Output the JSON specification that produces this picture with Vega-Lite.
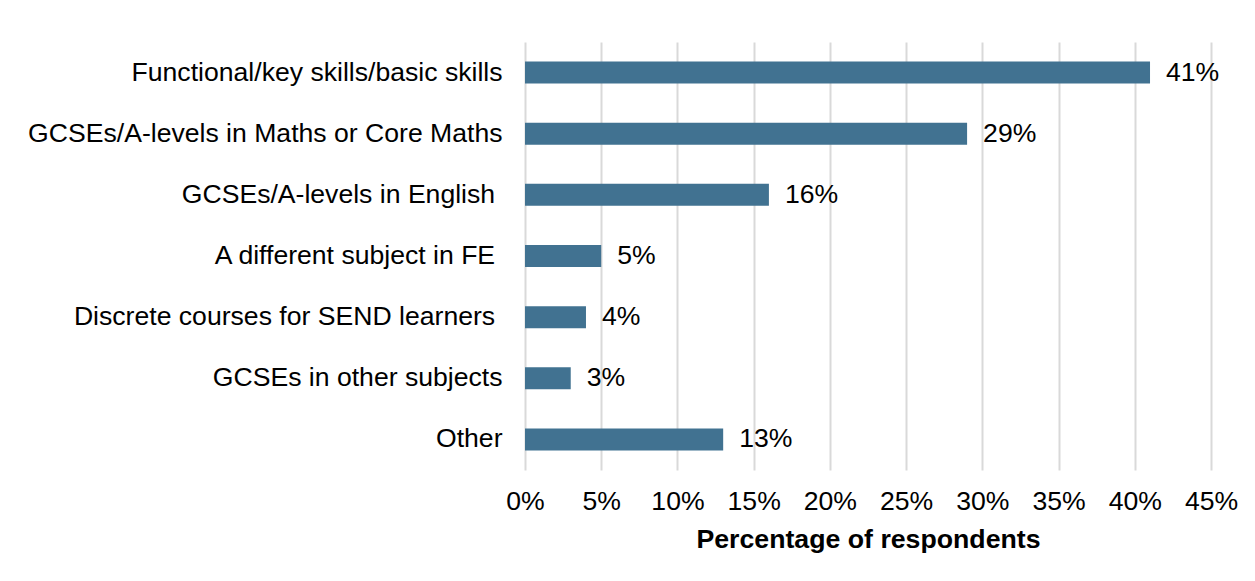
{
  "$schema": "https://vega.github.io/schema/vega-lite/v6.json",
  "autosize": {"type": "none"},
  "padding": {"left": 525, "top": 42, "right": 44, "bottom": 111},
  "width": 686,
  "height": 428,
  "background": "white",
  "config": {
    "font": "Liberation Sans",
    "view": {"stroke": null}
  },
  "data": {
    "values": [
      {"category": "Functional/key skills/basic skills", "pct": 41, "label": "41%"},
      {"category": "GCSEs/A-levels in Maths or Core Maths", "pct": 29, "label": "29%"},
      {"category": "GCSEs/A-levels in English\u00a0\u200b", "pct": 16, "label": "16%"},
      {"category": "A different subject in FE\u00a0\u200b", "pct": 5, "label": "5%"},
      {"category": "Discrete courses for SEND learners\u00a0\u200b", "pct": 4, "label": "4%"},
      {"category": "GCSEs in other subjects", "pct": 3, "label": "3%"},
      {"category": "Other", "pct": 13, "label": "13%"}
    ]
  },
  "encoding": {
    "y": {
      "field": "category",
      "type": "nominal",
      "sort": null,
      "scale": {"paddingInner": 0.64, "paddingOuter": 0.32},
      "axis": {
        "title": null,
        "domain": false,
        "ticks": false,
        "labelFontSize": 26.6,
        "labelColor": "#000000",
        "labelPadding": 23,
        "labelLimit": 600
      }
    },
    "x": {
      "field": "pct",
      "type": "quantitative",
      "scale": {"domain": [0, 45], "nice": false},
      "axis": {
        "title": "Percentage of respondents",
        "titleFontSize": 26.7,
        "titleFontWeight": "bold",
        "titleColor": "#000000",
        "titlePadding": 12,
        "values": [0, 5, 10, 15, 20, 25, 30, 35, 40, 45],
        "labelExpr": "datum.value + '%'",
        "labelFontSize": 26.6,
        "labelColor": "#000000",
        "labelPadding": 18,
        "labelOverlap": false,
        "labelFlush": false,
        "labelBound": false,
        "domain": false,
        "ticks": false,
        "grid": true,
        "gridColor": "#d9d9d9",
        "gridWidth": 2
      }
    }
  },
  "layer": [
    {
      "mark": {"type": "bar", "color": "#417291"}
    },
    {
      "mark": {"type": "text", "align": "left", "baseline": "middle", "dx": 16, "fontSize": 26.6, "color": "#000000"},
      "encoding": {
        "text": {"field": "label", "type": "nominal"}
      }
    }
  ]
}
